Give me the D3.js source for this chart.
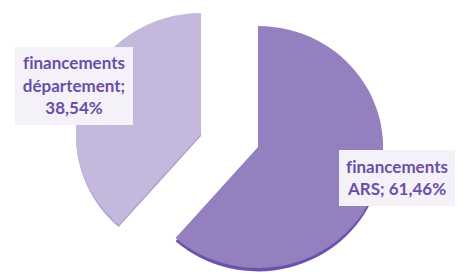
<!DOCTYPE html>
<html>
<head>
<meta charset="utf-8">
<script src="https://cdn.jsdelivr.net/npm/d3@7"></script>
<style>
  body { margin: 0; background: #fff; }
  svg { display: block; }
</style>
</head>
<body>
<div id="main"></div>
<script>
// data
const categories = ['financements ARS', 'financements département'];
const values = [61.46, 38.54];
const labelLines = [
    ['financements', 'ARS; 61,46%'],
    ['financements', 'département;', '38,54%']
];

const width = 465, height = 277;
const rx = 125, ry = 121;
const cx = 230, cy = 141;

// each slice is pulled away from the centre by its own offset
const explode = [[28, 6], [-29, -7]];
const colors = ['#9480bf', '#c4b9dd'];
const edgeColors = ['#6b52ad', '#ad9dd3'];

// label boxes: centre of box relative to svg
const labelPos = [[397, 178], [74, 86]];
const boxSize = [[116, 56], [118, 78]];

let svg = d3.select('#main')
    .append('svg')
    .attr('width', width)
    .attr('height', height);

const pie = d3.pie().sort(null).value(d => d)(values);
const arc = d3.arc().innerRadius(0).outerRadius(rx);

let slices = svg.selectAll('.slice')
    .data(pie)
    .enter()
    .append('g')
    .attr('class', 'slice')
    .attr('transform', (d, i) => `translate(${cx + explode[i][0]},${cy + explode[i][1]}) scale(1,${ry / rx})`);

// darker copy slightly below for the thickness of the 3d edge
slices.append('path')
    .attr('d', arc)
    .attr('transform', (d, i) => `translate(0,${i === 0 ? 3.5 : 2})`)
    .style('fill', (d, i) => edgeColors[i]);

slices.append('path')
    .attr('d', arc)
    .style('fill', (d, i) => colors[i]);

// labels
let labels = svg.selectAll('.label')
    .data(labelLines)
    .enter()
    .append('g')
    .attr('class', 'label')
    .attr('transform', (d, i) => `translate(${labelPos[i][0]},${labelPos[i][1]})`);

labels.append('rect')
    .attr('x', (d, i) => -boxSize[i][0] / 2)
    .attr('y', (d, i) => -boxSize[i][1] / 2)
    .attr('width', (d, i) => boxSize[i][0])
    .attr('height', (d, i) => boxSize[i][1])
    .style('fill', '#f4f2f8');

const lineH = 22.5;
labels.each(function(lines) {
    const g = d3.select(this);
    const top = -(lines.length - 1) * lineH / 2;
    g.selectAll('text')
        .data(lines)
        .enter()
        .append('text')
        .attr('x', 0)
        .attr('y', (t, j) => top + j * lineH)
        .attr('dy', '0.35em')
        .attr('text-anchor', 'middle')
        .style('font-family', 'Lato, sans-serif')
        .style('font-weight', 'bold')
        .style('font-size', '17px')
        .style('font-variant-ligatures', 'none')
        .style('fill', '#6b4fa6')
        .text(t => t);
});
</script>
</body>
</html>
